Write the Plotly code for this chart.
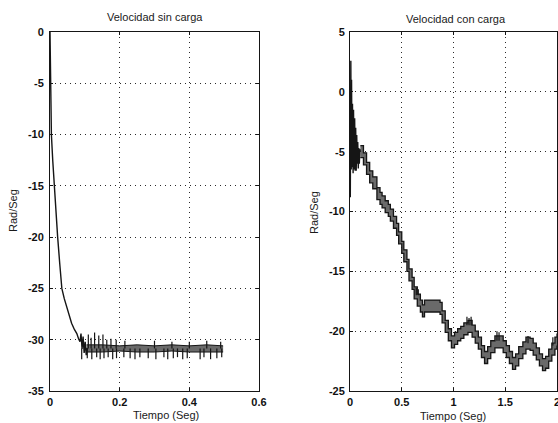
import plotly.graph_objects as go

# ---------------- Left panel: speed without load ----------------
# Start-up transient (s, rad/s)
t_sin = [0.0, 0.001, 0.002, 0.004, 0.008, 0.012, 0.017, 0.022, 0.028, 0.034,
         0.041, 0.048, 0.055, 0.062, 0.070, 0.077, 0.082, 0.086, 0.089, 0.092,
         0.095, 0.098, 0.101, 0.104, 0.107]
v_sin = [0.0, -4.0, -7.5, -10.0, -12.6, -15.0, -17.6, -20.0, -22.6, -25.0,
         -26.0, -26.8, -27.6, -28.4, -29.0, -29.4, -29.9, -30.2, -29.4, -30.9,
         -29.7, -31.3, -30.2, -31.5, -30.8]

# Steady-state ripple band (lower / upper edge)
t_band_sin = [0.105, 0.15, 0.20, 0.25, 0.30, 0.35, 0.40, 0.45, 0.497]
lo_band_sin = [-31.2, -31.2, -31.1, -31.2, -31.2, -31.1, -31.2, -31.2, -31.2]
hi_band_sin = [-30.5, -30.5, -30.6, -30.5, -30.6, -30.5, -30.6, -30.5, -30.6]

# Isolated ripple spikes: time, spike tip
t_spk_dn = [0.091, 0.107, 0.120, 0.134, 0.144, 0.155, 0.167, 0.180, 0.191, 0.212,
            0.230, 0.244, 0.258, 0.282, 0.304, 0.327, 0.338, 0.354, 0.366, 0.381,
            0.394, 0.431, 0.442, 0.461, 0.479, 0.493]
v_spk_dn = [-31.9, -31.8, -31.9, -31.7, -31.9, -31.8, -31.7, -31.9, -31.8, -31.7,
            -31.8, -31.9, -31.7, -31.8, -31.9, -31.7, -31.9, -31.8, -31.7, -31.9,
            -31.8, -31.9, -31.7, -31.9, -31.8, -31.7]
t_spk_up = [0.110, 0.118, 0.128, 0.140, 0.152, 0.163, 0.175, 0.190, 0.215, 0.300,
            0.350, 0.400, 0.450, 0.490]
v_spk_up = [-29.5, -29.8, -29.3, -29.6, -29.5, -30.0, -29.9, -30.0, -30.1, -30.1,
            -30.2, -30.2, -30.1, -30.2]
v_spk_base = -30.85

# ---------------- Right panel: speed with load ----------------
t_con_ini = [0.0, 0.003, 0.008, 0.012, 0.015, 0.020, 0.024, 0.030, 0.034, 0.040,
             0.045, 0.050, 0.055, 0.060, 0.065, 0.070, 0.075, 0.080, 0.085, 0.090,
             0.095, 0.100]
v_con_ini = [0.0, -8.8, 2.6, -6.5, 1.0, -6.3, -1.0, -6.8, -1.5, -6.5,
             -2.2, -6.6, -3.0, -6.6, -3.6, -6.0, -4.2, -6.4, -4.7, -6.0,
             -4.8, -5.0]

t_con = [0.10, 0.13, 0.16, 0.19, 0.22, 0.26, 0.29, 0.31, 0.34, 0.37,
         0.39, 0.42, 0.45, 0.47, 0.50, 0.52, 0.55, 0.57, 0.60, 0.62,
         0.65, 0.68, 0.70, 0.72, 0.87, 0.89, 0.92, 0.95, 0.98, 1.01,
         1.04, 1.07, 1.10, 1.14, 1.18, 1.21, 1.24, 1.27, 1.30, 1.33,
         1.36, 1.40, 1.45, 1.48, 1.51, 1.54, 1.57, 1.60, 1.63, 1.67,
         1.70, 1.74, 1.77, 1.80, 1.83, 1.86, 1.89, 1.92, 1.95, 1.98, 2.00]
lo_con = [-5.5, -6.1, -6.9, -7.6, -8.1, -9.0, -9.4, -9.7, -10.1, -10.4,
          -10.8, -11.4, -12.0, -12.7, -13.5, -14.2, -15.0, -15.8, -16.5, -17.3,
          -17.9, -18.4, -18.8, -18.4, -18.6, -19.3, -20.1, -20.8, -21.4, -21.1,
          -20.8, -20.6, -20.3, -20.1, -20.5, -21.0, -21.5, -22.2, -22.7, -22.3,
          -21.8, -21.4, -21.4, -21.8, -22.2, -22.7, -23.2, -22.9, -22.3, -21.9,
          -21.5, -21.6, -22.0, -22.4, -22.9, -23.3, -23.1, -22.5, -22.0, -21.5, -21.2]
hi_con = [-4.5, -5.1, -5.9, -6.6, -7.1, -8.0, -8.4, -8.7, -9.1, -9.4,
          -9.8, -10.4, -11.0, -11.7, -12.5, -13.2, -14.0, -14.8, -15.5, -16.3,
          -16.9, -17.4, -17.8, -17.4, -17.6, -18.3, -19.1, -19.8, -20.4, -20.1,
          -19.8, -19.6, -19.3, -19.1, -19.5, -20.0, -20.5, -21.2, -21.7, -21.3,
          -20.8, -20.4, -20.4, -20.8, -21.2, -21.7, -22.2, -21.9, -21.3, -20.9,
          -20.5, -20.6, -21.0, -21.4, -21.9, -22.3, -22.1, -21.5, -21.0, -20.5, -20.2]

# Short spikes on top of the staircase
t_spk_con = [0.64, 0.66, 1.13, 1.15, 1.17, 1.42, 1.44, 1.72, 1.96]
v_spk_con_a = [-17.0, -17.0, -19.5, -19.5, -19.5, -20.8, -20.8, -21.0, -21.2]
v_spk_con_b = [-16.4, -16.5, -18.8, -18.9, -18.8, -20.0, -20.1, -20.4, -20.5]

# Axis tick labels
xt_sin = [0, 0.2, 0.4, 0.6]
xl_sin = ["0", "0.2", "0.4", "0.6"]
yt_sin = [0, -5, -10, -15, -20, -25, -30, -35]
yl_sin = ["0", "-5", "-10", "-15", "-20", "-25", "-30", "-35"]
xt_con = [0, 0.5, 1, 1.5, 2]
xl_con = ["0", "0.5", "1", "1.5", "2"]
yt_con = [5, 0, -5, -10, -15, -20, -25]
yl_con = ["5", "0", "-5", "-10", "-15", "-20", "-25"]

INK = "#151515"
BAND = "#6a6a6a"


def segments(ts, a, b):
    xs, ys = [], []
    for t, ya, yb in zip(ts, a, b):
        xs += [t, t, None]
        ys += [ya, yb, None]
    return xs, ys


fig = go.Figure()

# left panel traces
fig.add_trace(go.Scatter(x=t_band_sin, y=lo_band_sin, mode="lines", line=dict(color=INK, width=1),
                         xaxis="x", yaxis="y"))
fig.add_trace(go.Scatter(x=t_band_sin, y=hi_band_sin, mode="lines", line=dict(color=INK, width=1),
                         fill="tonexty", fillcolor=BAND, xaxis="x", yaxis="y"))
sx, sy = segments(t_spk_dn, [v_spk_base] * len(t_spk_dn), v_spk_dn)
fig.add_trace(go.Scatter(x=sx, y=sy, mode="lines", line=dict(color=INK, width=1.2),
                         xaxis="x", yaxis="y"))
sx, sy = segments(t_spk_up, [v_spk_base] * len(t_spk_up), v_spk_up)
fig.add_trace(go.Scatter(x=sx, y=sy, mode="lines", line=dict(color=INK, width=1.2),
                         xaxis="x", yaxis="y"))
fig.add_trace(go.Scatter(x=t_sin, y=v_sin, mode="lines", line=dict(color=INK, width=1.4),
                         xaxis="x", yaxis="y"))

# right panel traces
fig.add_trace(go.Scatter(x=t_con, y=lo_con, mode="lines", line=dict(color=INK, width=1.3, shape="hv"),
                         xaxis="x2", yaxis="y2"))
fig.add_trace(go.Scatter(x=t_con, y=hi_con, mode="lines", line=dict(color=INK, width=1.3, shape="hv"),
                         fill="tonexty", fillcolor=BAND, xaxis="x2", yaxis="y2"))
sx, sy = segments(t_spk_con, v_spk_con_a, v_spk_con_b)
fig.add_trace(go.Scatter(x=sx, y=sy, mode="lines", line=dict(color=INK, width=1.2),
                         xaxis="x2", yaxis="y2"))
fig.add_trace(go.Scatter(x=t_con_ini, y=v_con_ini, mode="lines", line=dict(color=INK, width=1.4),
                         xaxis="x2", yaxis="y2"))

FONT = "Liberation Sans, Arial, sans-serif"
tickfont = dict(family=FONT, size=11, color="#111111", weight="bold")
axis_common = dict(showgrid=True, gridcolor="#2a2a2a", griddash="1px,4px", gridwidth=1,
                   showline=True, linecolor=INK, linewidth=1, mirror="ticks",
                   ticks="inside", ticklen=3, tickcolor=INK, zeroline=False,
                   tickfont=tickfont, tickmode="array", automargin=False,
                   ticklabeloverflow="allow")

Y0, Y1 = 1 - 391 / 423, 1 - 32 / 423

fig.update_layout(
    width=558, height=423,
    margin=dict(l=0, r=0, t=0, b=0, autoexpand=False),
    paper_bgcolor="white", plot_bgcolor="white",
    showlegend=False,
    xaxis=dict(domain=[50 / 558, 259 / 558], range=[0, 0.6], tickvals=xt_sin, ticktext=xl_sin,
               anchor="y", ticklabelstandoff=1, **axis_common),
    yaxis=dict(domain=[Y0, Y1], range=[-35, 0], tickvals=yt_sin, ticktext=yl_sin,
               anchor="x", ticklabelstandoff=3, **axis_common),
    xaxis2=dict(domain=[350 / 558, 557 / 558], range=[0, 2], tickvals=xt_con, ticktext=xl_con,
                anchor="y2", ticklabelstandoff=1, **axis_common),
    yaxis2=dict(domain=[Y0, Y1], range=[-25, 5], tickvals=yt_con, ticktext=yl_con,
                anchor="x2", ticklabelstandoff=2, **axis_common),
)

lab = dict(family=FONT, size=11, color="#1a1a1a")


def label(text, px, py, angle=0):
    fig.add_annotation(text=text, x=px / 558, y=1 - py / 423, xref="paper", yref="paper",
                       xanchor="center", yanchor="middle", showarrow=False, font=lab,
                       textangle=angle)


label("Velocidad sin carga", 155, 17)
label("Velocidad con carga", 456, 19)
label("Tiempo (Seg)", 166, 415)
label("Tiempo (Seg)", 453, 416)
label("Rad/Seg", 13, 211, -90)
label("Rad/Seg", 314, 213, -90)

fig.write_html("out.html")
